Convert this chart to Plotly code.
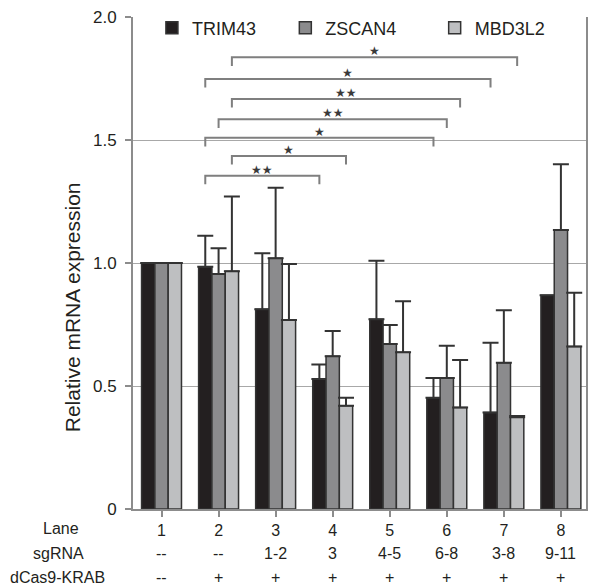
import plotly.graph_objects as go

# ---------------- data ----------------
lanes = ["1", "2", "3", "4", "5", "6", "7", "8"]
sgrna = ["--", "--", "1-2", "3", "4-5", "6-8", "3-8", "9-11"]
dcas9 = ["--", "+", "+", "+", "+", "+", "+", "+"]

series_names = ["TRIM43", "ZSCAN4", "MBD3L2"]
trim43 = [1.00, 0.985, 0.812, 0.528, 0.771, 0.452, 0.392, 0.869]
zscan4 = [1.00, 0.955, 1.019, 0.621, 0.671, 0.533, 0.595, 1.134]
mbd3l2 = [1.00, 0.966, 0.768, 0.420, 0.637, 0.413, 0.373, 0.661]

trim43_err = [None, 0.126, 0.228, 0.059, 0.238, 0.081, 0.284, 0.0]
zscan4_err = [None, 0.105, 0.287, 0.103, 0.077, 0.131, 0.213, 0.267]
mbd3l2_err = [None, 0.304, 0.228, 0.032, 0.208, 0.193, 0.005, 0.218]

# significance brackets: (lane_from, series_from, lane_to, series_to, label, level)
brackets = [
    (2, 2, 7, 2, "★", 1.836),
    (2, 0, 7, 0, "★", 1.748),
    (2, 2, 6, 2, "★★", 1.667),
    (2, 1, 6, 1, "★★", 1.584),
    (2, 0, 6, 0, "★", 1.509),
    (2, 2, 4, 2, "★", 1.435),
    (2, 0, 4, 0, "★★", 1.355),
]

yticks = [0, 0.5, 1.0, 1.5, 2.0]
yticktext = ["0", "0.5", "1.0", "1.5", "2.0"]

# ---------------- style ----------------
FONT = "Liberation Sans, Arial, sans-serif"
TXT = "#231f20"
colors = ["#231f20", "#8b8b8d", "#bebfc1"]
values = [trim43, zscan4, mbd3l2]
errors = [trim43_err, zscan4_err, mbd3l2_err]

W, H = 590, 587
ML, MR, MT, MB = 133, 2, 17, 78
BARGAP = 0.3
bar_w = (1 - BARGAP) / 3
pw = W - ML - MR
ph = H - MT - MB


def px2paper_x(px):
    return (px - ML) / pw


def px2paper_y(py):
    return (H - MB - py) / ph


fig = go.Figure()
legend_ids = ["legend", "legend2", "legend3"]
for k in range(3):
    fig.add_trace(go.Bar(
        name=series_names[k],
        x=list(range(len(lanes))),
        y=values[k],
        marker=dict(color=colors[k], line=dict(color="#333333", width=1.5)),
        error_y=dict(type="data", symmetric=False, array=errors[k],
                     arrayminus=[0] * len(lanes), color="#333333",
                     thickness=2, width=8),
        legend=legend_ids[k],
    ))

shapes = []
annotations = []
drop = 0.035
for (la, sa, lb, sb, lab, lev) in brackets:
    xa = (la - 1) + (sa - 1) * bar_w
    xb = (lb - 1) + (sb - 1) * bar_w
    shapes.append(dict(
        type="path", xref="x", yref="y",
        path=f"M {xa},{lev - drop} L {xa},{lev} L {xb},{lev} L {xb},{lev - drop}",
        line=dict(color="#7f7f7f", width=2),
    ))
    annotations.append(dict(
        x=(xa + xb) / 2, y=lev, xref="x", yref="y", text=lab,
        showarrow=False, yanchor="bottom", yshift=-3,
        font=dict(family="DejaVu Sans", size=12, color="#3a3a3a"),
    ))

# bottom table rows
for i in range(len(lanes)):
    annotations.append(dict(x=i, y=px2paper_y(553), xref="x", yref="paper", text=sgrna[i],
                            showarrow=False, yanchor="middle",
                            font=dict(family=FONT, size=16, color=TXT)))
    annotations.append(dict(x=i, y=px2paper_y(577.5), xref="x", yref="paper", text=dcas9[i],
                            showarrow=False, yanchor="middle",
                            font=dict(family=FONT, size=16, color=TXT)))

for txt, cx, cy in [("Lane", 61, 528), ("sgRNA", 58, 553), ("dCas9-KRAB", 57, 577.5)]:
    annotations.append(dict(x=px2paper_x(cx), y=px2paper_y(cy), xref="paper", yref="paper",
                            text=txt, showarrow=False, xanchor="center", yanchor="middle",
                            font=dict(family=FONT, size=16, color=TXT)))

# y axis title
annotations.append(dict(x=px2paper_x(73), y=px2paper_y(307), xref="paper", yref="paper",
                        text="Relative mRNA expression", textangle=-90, showarrow=False,
                        xanchor="center", yanchor="middle",
                        font=dict(family=FONT, size=21, color=TXT)))

leg_centers = [172, 306, 456]
legend_layout = {}
for k, lid in enumerate(legend_ids):
    legend_layout[lid] = dict(
        x=px2paper_x(leg_centers[k] - 20), y=px2paper_y(28),
        xanchor="left", yanchor="middle", orientation="h",
        bgcolor="rgba(0,0,0,0)", borderwidth=0,
        font=dict(family=FONT, size=18, color=TXT),
    )

fig.update_layout(
    width=W, height=H,
    margin=dict(l=ML, r=MR, t=MT, b=MB, pad=0),
    paper_bgcolor="white", plot_bgcolor="white",
    barmode="group", bargap=BARGAP, bargroupgap=0,
    showlegend=True,
    shapes=shapes, annotations=annotations,
    font=dict(family=FONT, size=16, color=TXT),
    xaxis=dict(
        range=[-0.5, 7.44], tickmode="array", tickvals=list(range(len(lanes))),
        ticktext=lanes, showgrid=False, zeroline=False,
        showline=True, linecolor="#8c8c8c", linewidth=2,
        ticks="outside", ticklen=6, tickcolor="#8c8c8c", tickwidth=1.5,
        tickfont=dict(family=FONT, size=16, color=TXT),
    ),
    yaxis=dict(
        range=[0, 2.0], tickvals=yticks, ticktext=yticktext,
        showgrid=True, gridcolor="#a8a8a8", gridwidth=1.2, zeroline=False,
        showline=True, linecolor="#8c8c8c", linewidth=2, mirror=True,
        ticks="outside", ticklen=6, tickcolor="#8c8c8c", tickwidth=1.5,
        ticklabelstandoff=5,
        tickfont=dict(family=FONT, size=17, color=TXT),
    ),
    **legend_layout,
)

fig.write_html(
    "out.html",
    config={"displayModeBar": False},
    post_script="document.body.style.margin='0px'; document.body.style.overflow='hidden';",
)
